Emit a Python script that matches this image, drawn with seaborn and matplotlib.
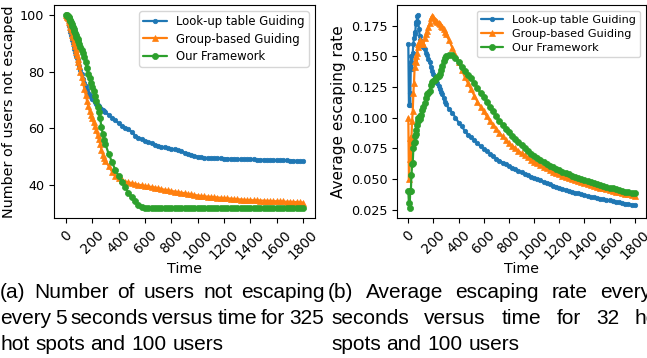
import matplotlib
matplotlib.use("Agg")
import matplotlib.pyplot as plt
from matplotlib.transforms import IdentityTransform
import seaborn as sns

# ---------------- data ----------------
time = [0, 5, 10, 15, 20, 25, 30, 35, 40, 45, 50, 55, 60, 65, 70, 75, 80, 85, 90, 95, 100,
        110, 120, 130, 140, 150, 160, 170, 180, 190, 200, 210, 220, 230, 240, 250, 260, 270, 280, 290, 300,
        325, 350, 375, 400, 425, 450, 475, 500, 525, 550, 575, 600, 625, 650, 675, 700, 725, 750, 775, 800,
        825, 850, 875, 900, 925, 950, 975, 1000, 1025, 1050, 1075, 1100, 1125, 1150, 1175, 1200,
        1225, 1250, 1275, 1300, 1325, 1350, 1375, 1400, 1425, 1450, 1475, 1500, 1525, 1550, 1575, 1600,
        1625, 1650, 1675, 1700, 1725, 1750, 1775, 1800]

methods = ["Look-up table Guiding", "Group-based Guiding", "Our Framework"]

lookup_remaining = [100, 99.5, 99, 98, 97, 96, 95, 94, 93, 92, 91, 90, 89, 88, 87, 86.3, 85.5, 84.8, 84, 83, 82,
                    80.5, 79, 77.5, 76, 74.8, 73.6, 72.5, 71.6, 71, 70.5, 70, 69.3, 68.7, 68.2, 67.8, 67.3, 66.9, 66.5, 66.1, 65.8,
                    64.8, 63.8, 62.8, 61.8, 61, 60.3, 59.7, 58.8, 57.5, 56.8, 56.2, 55.6, 55.2, 54.8, 54.3, 53.9,
                    53.6, 53.3, 53, 52.8, 52.6, 52.3, 51.9, 51.5, 51.1, 50.8, 50.4, 50.1, 49.9, 49.7, 49.6, 49.6,
                    49.6, 49.5, 49.5, 49.4, 49.4, 49.3, 49.3, 49.2, 49.2, 49.1, 49.1, 49.1, 49.1, 49.0, 49.0, 49.0,
                    48.9, 48.9, 48.9, 48.9, 48.8, 48.8, 48.8, 48.7, 48.7, 48.6, 48.5, 48.4]
group_remaining = [100, 99.7, 99.3, 98.7, 98.2, 97.5, 96.8, 95.8, 95, 94.2, 93, 92, 91, 90.2, 89, 88, 86.8, 85.8, 84.5, 83.5, 82,
                   79.8, 78, 76.2, 74, 71.8, 69.8, 67.8, 66.2, 64.8, 63.5, 62.2, 60.8, 59.3, 57.8, 56.2, 54.6, 52.5, 50.8, 49.5, 48.6,
                   46.8, 44.8, 43.2, 42.4, 41.9, 41.3, 41, 40.8, 40.5, 40.2, 40, 39.8, 39.6, 39.4, 39.2, 39,
                   38.7, 38.4, 38.2, 38, 37.8, 37.6, 37.4, 37.2, 37, 36.8, 36.6, 36.4, 36.2, 36.1, 36, 35.9,
                   35.8, 35.7, 35.6, 35.5, 35.4, 35.3, 35.2, 35.1, 35, 34.9, 34.8, 34.8, 34.7, 34.7, 34.6, 34.6,
                   34.5, 34.5, 34.4, 34.4, 34.3, 34.3, 34.2, 34.2, 34.1, 34.1, 34.0, 33.9]
ours_remaining = [100, 99.8, 99.7, 99.4, 99.2, 98.7, 98.2, 97.8, 97.4, 96.7, 96, 95.5, 94.8, 94.2, 93.5, 92.8, 92.2, 91.8, 91.5, 90.6, 89.8,
                  88.5, 87.5, 86.6, 85, 83.2, 81.2, 79.3, 77.6, 76, 74.5, 73.2, 71.5, 69.6, 67.6, 65.6, 63.5, 60.5, 58, 56, 54.5,
                  51, 48.2, 45.4, 43.2, 41.3, 39.4, 37.4, 35.8, 34.4, 33.2, 32.3, 31.9, 31.9, 31.9, 31.9, 31.9,
                  31.9, 31.9, 31.9, 31.9, 31.9, 31.9, 31.9, 31.9, 31.9, 31.9, 31.9, 31.9, 31.9, 31.9, 31.9, 31.9,
                  31.9, 31.9, 31.9, 31.9, 31.9, 31.9, 31.9, 31.9, 31.9, 31.9, 31.9, 31.9, 31.9, 31.9, 31.9, 31.9,
                  31.9, 31.9, 31.9, 31.9, 31.9, 31.9, 31.9, 31.9, 31.9, 31.9, 31.9, 31.9]

lookup_rate = [0.160, 0.110, 0.120, 0.110, 0.145, 0.150, 0.140, 0.153, 0.160, 0.165, 0.170, 0.168, 0.178, 0.176, 0.183, 0.184, 0.178, 0.172, 0.167, 0.163, 0.160,
               0.159, 0.158, 0.156, 0.153, 0.151, 0.148, 0.145, 0.141, 0.138, 0.136, 0.133, 0.131, 0.128, 0.126, 0.123, 0.121, 0.119, 0.116, 0.113, 0.111,
               0.107, 0.104, 0.100, 0.096, 0.093, 0.089, 0.086, 0.084, 0.0815, 0.079, 0.0765, 0.0745, 0.0725, 0.0705, 0.0685, 0.0665,
               0.065, 0.0633, 0.0618, 0.0604, 0.059, 0.0577, 0.0565, 0.0553, 0.0541, 0.053, 0.0519, 0.0508, 0.0497, 0.0487, 0.0477,
               0.0465, 0.0456, 0.0446, 0.0437, 0.0428, 0.0419, 0.0411, 0.0403, 0.0395, 0.0388, 0.0381, 0.0374, 0.0367,
               0.0361, 0.0355, 0.0349, 0.0344, 0.0339, 0.0334, 0.0329, 0.0324, 0.0319, 0.0314, 0.0309, 0.0304, 0.0299, 0.0295, 0.0291, 0.0287]
group_rate = [0.100, 0.050, 0.066, 0.083, 0.066, 0.084, 0.097, 0.105, 0.120, 0.128, 0.141, 0.146, 0.150, 0.145, 0.153, 0.160, 0.158, 0.161, 0.163, 0.160, 0.161,
              0.162, 0.160, 0.165, 0.168, 0.171, 0.174, 0.177, 0.181, 0.183, 0.182, 0.180, 0.179, 0.178, 0.177, 0.176, 0.175, 0.174, 0.172, 0.170, 0.168,
              0.163, 0.157, 0.151, 0.145, 0.139, 0.133, 0.128, 0.123, 0.118, 0.113, 0.109, 0.105, 0.101, 0.097, 0.094, 0.091,
              0.0875, 0.0847, 0.082, 0.0795, 0.0772, 0.075, 0.073, 0.071, 0.0692, 0.0675, 0.0658, 0.0642, 0.0627, 0.0612, 0.0598, 0.0585,
              0.0572, 0.056, 0.0548, 0.0537, 0.0527, 0.0517, 0.0507, 0.0498, 0.0489, 0.0481, 0.0473, 0.0465, 0.0457, 0.045, 0.0443, 0.0436,
              0.0429, 0.0422, 0.0415, 0.0408, 0.0402, 0.0396, 0.039, 0.0384, 0.0378, 0.0373, 0.0368, 0.0363]
ours_rate = [0.040, 0.030, 0.026, 0.040, 0.040, 0.053, 0.062, 0.063, 0.075, 0.079, 0.080, 0.085, 0.087, 0.090, 0.094, 0.097, 0.100, 0.100, 0.099, 0.101, 0.102,
             0.106, 0.109, 0.112, 0.116, 0.119, 0.1205, 0.122, 0.127, 0.129, 0.130, 0.131, 0.132, 0.133, 0.134, 0.136, 0.139, 0.142, 0.146, 0.149, 0.150,
             0.1515, 0.151, 0.149, 0.145, 0.141, 0.138, 0.135, 0.132, 0.128, 0.124, 0.120, 0.117, 0.113, 0.109, 0.105, 0.101,
             0.097, 0.094, 0.091, 0.088, 0.085, 0.0825, 0.080, 0.0775, 0.0752, 0.073, 0.0707, 0.0685, 0.0668, 0.0652, 0.0637, 0.0623,
             0.0609, 0.0596, 0.0583, 0.0571, 0.0559, 0.0548, 0.0537, 0.0527, 0.0517, 0.0507, 0.0498, 0.0489, 0.0481, 0.0472, 0.0464, 0.0457,
             0.0449, 0.0442, 0.0435, 0.0428, 0.0422, 0.0415, 0.0409, 0.0403, 0.0397, 0.0391, 0.0386, 0.0381]

xticks = [0, 200, 400, 600, 800, 1000, 1200, 1400, 1600, 1800]
left_yticks = [40, 60, 80, 100]
right_yticks = [0.025, 0.050, 0.075, 0.100, 0.125, 0.150, 0.175]
right_ytick_labels = ["0.025", "0.050", "0.075", "0.100", "0.125", "0.150", "0.175"]
left_ylabel = "Number of users not escaped"
right_ylabel = "Average escaping rate"
xlabel = "Time"

caption_left = ["(a) Number of users not escaping",
                "every 5 seconds versus time for 325",
                "hot spots and 100 users"]
caption_right = ["(b) Average escaping rate every 5",
                 "seconds versus time for 32 hot",
                 "spots and 100 users"]

# ---------------- style ----------------
sns.set_theme(style="ticks")
plt.rcParams["font.family"] = ["DejaVu Sans"]
plt.rcParams.update({
    "axes.edgecolor": "black", "axes.linewidth": 0.8,
    "xtick.color": "black", "ytick.color": "black",
    "xtick.major.size": 3.5, "ytick.major.size": 3.5,
    "xtick.major.width": 0.8, "ytick.major.width": 0.8,
    "axes.labelcolor": "black", "text.color": "black",
})

colors = ["#1f77b4", "#ff7f0e", "#2ca02c"]
markers = [".", "^", "o"]
msizes = [6.5, 4.2, 4.4]

fig = plt.figure(figsize=(6.47, 3.58), dpi=100)
W, H = 647, 358
ax1 = fig.add_axes([54 / W, 1 - 218 / H, (315 - 54) / W, (218 - 5) / H])
ax2 = fig.add_axes([397 / W, 1 - 218 / H, (646 - 397) / W, (218 - 5) / H])

for ax, series, ylab, ylsize, legsize in [
        (ax1, [lookup_remaining, group_remaining, ours_remaining], left_ylabel, 10.4, 8.4),
        (ax2, [lookup_rate, group_rate, ours_rate], right_ylabel, 11.0, 8.1)]:
    for name, vals, c, m, ms in zip(methods, series, colors, markers, msizes):
        sns.lineplot(x=time, y=vals, ax=ax, color=c, marker=m, markersize=ms,
                     markeredgecolor=c, markeredgewidth=0.5, linewidth=1.6, label=name)
    ax.set_xticks(xticks)
    ax.set_xticklabels([str(t) for t in xticks], rotation=45, fontsize=9.8)
    ax.tick_params(axis="y", labelsize=9.2)
    ax.set_xlabel(xlabel, fontsize=10.3, labelpad=0)
    ax.set_ylabel(ylab, fontsize=ylsize, labelpad=3)
    ax.legend(loc="upper right", fontsize=legsize, frameon=True, framealpha=0.8,
              edgecolor="#cccccc", fancybox=True, handlelength=2.0,
              labelspacing=0.35, borderpad=0.35, borderaxespad=0.55)
    for sp in ax.spines.values():
        sp.set_visible(True)

ax1.set_yticks(left_yticks)
ax1.set_yticklabels([str(v) for v in left_yticks])
ax2.set_yticks(right_yticks)
ax2.set_yticklabels(right_ytick_labels)

# ---------------- captions (justified like the paper) ----------------
renderer = fig.canvas.get_renderer()
cap_font = ["Liberation Sans", "DejaVu Sans"]
cap_size = 15


def place_line(text, x0, y_top, anchor=None):
    words = text.split(" ")
    objs = [fig.text(0, 0, w, fontsize=cap_size, family=cap_font, transform=IdentityTransform(),
                     va="baseline", ha="left") for w in words]
    widths = [o.get_window_extent(renderer).width for o in objs]
    t1 = fig.text(0, 0, "a a", fontsize=cap_size, family=cap_font)
    t2 = fig.text(0, 0, "aa", fontsize=cap_size, family=cap_font)
    space = t1.get_window_extent(renderer).width - t2.get_window_extent(renderer).width
    t1.remove()
    t2.remove()
    if anchor is not None:
        k, xk = anchor
        gap = (xk - x0 - sum(widths[:k])) / k
    else:
        gap = space
    x = x0
    for o, w in zip(objs, widths):
        o.set_position((x, H - y_top))
        x += w + gap


baselines = [298, 324, 350]
place_line(caption_left[0], 0, baselines[0], anchor=(5, 241))
place_line(caption_left[1], 0, baselines[1], anchor=(6, 289))
place_line(caption_left[2], 0, baselines[2])
place_line(caption_right[0], 328, baselines[0], anchor=(4, 600))
place_line(caption_right[1], 331, baselines[1], anchor=(5, 635))
place_line(caption_right[2], 331, baselines[2])

fig.savefig("out.png", dpi=100)
